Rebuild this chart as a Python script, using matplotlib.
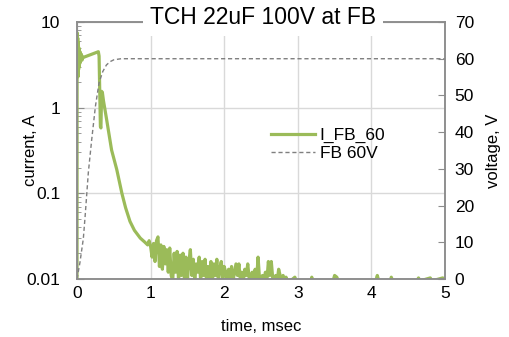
import numpy as np
import matplotlib
matplotlib.use("Agg")
import matplotlib.pyplot as plt

plt.rcParams['font.family'] = ['Liberation Sans', 'DejaVu Sans']

# current I_FB_60 (time in msec, current in A)
t_i = [0.000, 0.001, 0.006, 0.010, 0.014, 0.018, 0.022, 0.026, 0.030, 0.035,
       0.040, 0.045, 0.050, 0.060, 0.070, 0.080, 0.100, 0.200, 0.290, 0.300,
       0.318, 0.325, 0.335, 0.345, 0.360, 0.400, 0.470, 0.540, 0.610, 0.660,
       0.720, 0.780, 0.860, 0.920, 0.960, 0.980,
       1.00, 1.02, 1.04, 1.06, 1.08, 1.10, 1.12, 1.14, 1.16, 1.18,
       1.20, 1.22, 1.24, 1.26, 1.28, 1.30, 1.32, 1.34, 1.36, 1.38,
       1.40, 1.42, 1.44, 1.46, 1.48, 1.50, 1.52, 1.54, 1.56, 1.58,
       1.60, 1.62, 1.64, 1.66, 1.68, 1.70, 1.72, 1.74, 1.76, 1.78,
       1.80, 1.82, 1.84, 1.86, 1.88, 1.90, 1.92, 1.94, 1.96, 1.98,
       2.00, 2.02, 2.04, 2.06, 2.08, 2.10, 2.12, 2.14, 2.16, 2.18,
       2.20, 2.22, 2.24, 2.26, 2.28, 2.30, 2.32, 2.34, 2.36, 2.38,
       2.40, 2.42, 2.44, 2.46, 2.48, 2.50, 2.52, 2.54, 2.56, 2.58,
       2.60, 2.62, 2.64, 2.66, 2.68, 2.70, 2.72, 2.74, 2.76, 2.78,
       2.80, 2.82, 2.84, 2.86, 2.90, 2.96, 2.98,
       3.10, 3.18, 3.19, 3.20, 3.48, 3.50, 3.53, 3.55, 4.06, 4.08,
       4.10, 4.26, 4.27, 4.29, 4.62, 4.64, 4.66, 4.80, 4.82, 4.97, 5.00]
i_fb = [0.0095, 7.5, 2.5, 6.5, 2.3, 5.8, 2.8, 5.0, 3.0, 4.6,
        3.3, 4.4, 3.5, 4.2, 3.6, 3.9, 3.9, 4.2, 4.5, 4.0,
        0.6, 0.58, 1.55, 1.5, 1.2, 0.75, 0.32, 0.19, 0.10, 0.068,
        0.047, 0.037, 0.030, 0.027, 0.025, 0.028,
        0.024, 0.018, 0.026, 0.016, 0.028, 0.031, 0.014, 0.025, 0.013, 0.024,
        0.015, 0.022, 0.012, 0.023, 0.011, 0.0095, 0.020, 0.012, 0.021, 0.0095,
        0.019, 0.011, 0.020, 0.010, 0.018, 0.0095, 0.016, 0.022, 0.011, 0.017,
        0.0095, 0.015, 0.012, 0.018, 0.0095, 0.016, 0.011, 0.017, 0.0095, 0.014,
        0.010, 0.016, 0.0095, 0.015, 0.011, 0.017, 0.0095, 0.013, 0.016, 0.0095,
        0.014, 0.012, 0.0095, 0.013, 0.010, 0.014, 0.0095, 0.012, 0.015, 0.011,
        0.015, 0.0095, 0.012, 0.0095, 0.013, 0.011, 0.015, 0.010, 0.0095, 0.012,
        0.0095, 0.013, 0.0095, 0.018, 0.010, 0.0095, 0.011, 0.0095, 0.012, 0.0095,
        0.016, 0.011, 0.016, 0.010, 0.0095, 0.011, 0.0095, 0.013, 0.011, 0.0095,
        0.011, 0.0095, 0.0105, 0.0095, 0.0095, 0.0105, 0.0095,
        0.0095, 0.0095, 0.0105, 0.0095, 0.0095, 0.011, 0.0105, 0.0095, 0.0095, 0.011,
        0.0095, 0.0095, 0.0105, 0.0095, 0.0095, 0.0103, 0.0095, 0.0103, 0.0095, 0.0103, 0.0095]

# voltage FB 60V (time in msec, voltage in V)
t_v = [0.0, 0.04, 0.086, 0.11, 0.154, 0.20, 0.25, 0.30, 0.35, 0.40, 0.45, 0.50, 0.60, 5.0]
v_fb = [0.0, 4.5, 11.0, 17.0, 29.0, 38.0, 47.0, 53.5, 56.5, 58.3, 59.2, 59.7, 60.0, 60.0]

green = '#9bbb59'
spine_c = '#8c8c8c'
grid_c = '#d9d9d9'

fig = plt.figure(figsize=(5.09, 3.37), dpi=100)
ax = fig.add_axes([77/509, 1-279/337, 368/509, 257/337])
ax2 = ax.twinx()

l1, = ax.plot(t_i, i_fb, color=green, lw=2.3, label='I_FB_60', zorder=3)
l2, = ax2.plot(t_v, v_fb, color='#7f7f7f', lw=1.0, ls=(0, (3, 2)), label='FB 60V')

ax.set_yscale('log')
ax.set_ylim(0.01, 10)
ax.set_xlim(0, 5)
ax2.set_ylim(0, 70)
ax2.set_yticks(range(0, 71, 10))
ax.set_xticks(range(0, 6))

ax.grid(True, which='major', color=grid_c, lw=1.0)
ax.set_axisbelow(True)

for a in (ax, ax2):
    for s in a.spines.values():
        s.set_color(spine_c)
        s.set_linewidth(1.1)
        s.set_zorder(4)

ax.tick_params(axis='x', length=0, pad=5, labelsize=12.5)
ax.tick_params(axis='y', which='major', direction='in', length=5, colors=spine_c,
               labelcolor='black', labelsize=12.5, pad=12)
ax.tick_params(axis='y', which='minor', direction='in', length=3, colors=spine_c)
ax.yaxis.set_major_formatter(matplotlib.ticker.FuncFormatter(lambda v, p: f'{v:g}'))
ax2.tick_params(axis='y', direction='in', length=5, colors=spine_c, labelcolor='black',
                labelsize=12.5, pad=7)

ax.set_xlabel('time, msec', fontsize=12, labelpad=13)
ax.set_ylabel('current, A', fontsize=12)
ax2.set_ylabel('voltage, V', fontsize=12)
ax.yaxis.set_label_coords(-0.106, 0.5)
ax2.yaxis.set_label_coords(1.112, 0.5)

fig.text(263/509, 1-18/337, 'TCH 22uF 100V at FB', fontsize=16.5, ha='center', va='center',
         bbox=dict(facecolor='white', edgecolor='none', boxstyle='square,pad=0.3'))

ax2.legend([l1, l2], ['I_FB_60', 'FB 60V'], loc='upper left', bbox_to_anchor=(0.485, 0.65),
           frameon=False, fontsize=12.5, handlelength=2.5, handletextpad=0.3, labelspacing=0.15)

fig.savefig('out.png', dpi=100)
